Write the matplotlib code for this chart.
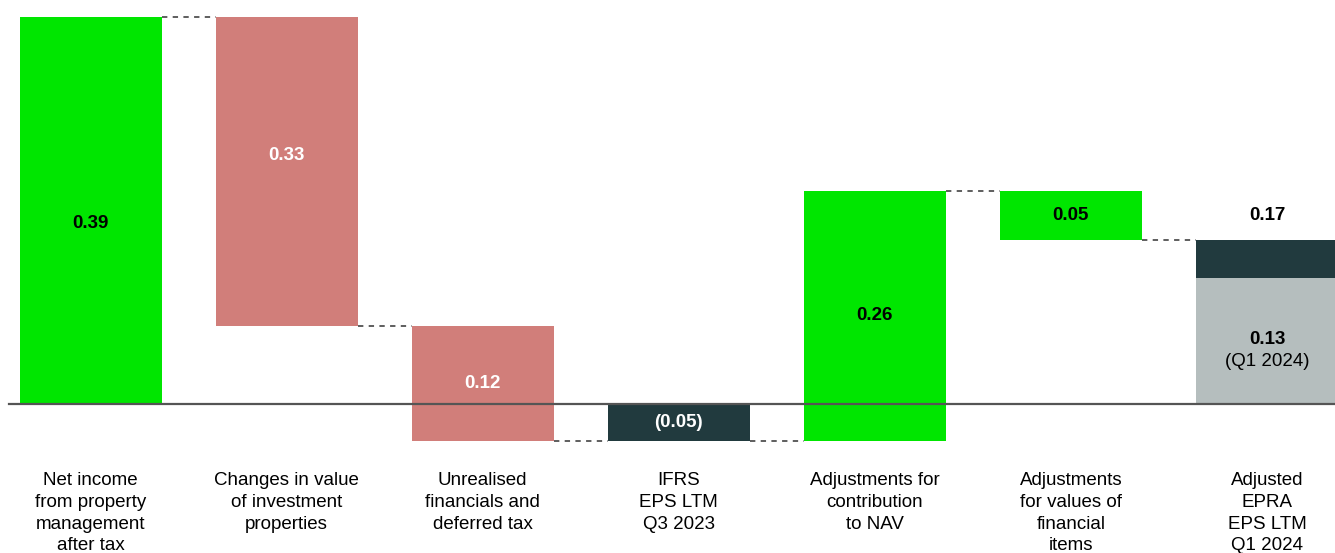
import matplotlib
matplotlib.use("Agg")
import matplotlib.pyplot as plt

plt.rcParams['font.family'] = ['Liberation Sans', 'DejaVu Sans']

categories = [
    "Net income\nfrom property\nmanagement\nafter tax",
    "Changes in value\nof investment\nproperties",
    "Unrealised\nfinancials and\ndeferred tax",
    "IFRS\nEPS LTM\nQ3 2023",
    "Adjustments for\ncontribution\nto NAV",
    "Adjustments\nfor values of\nfinancial\nitems",
    "Adjusted\nEPRA\nEPS LTM\nQ1 2024",
]
# bar kinds: 'up' / 'down' are changes, 'total' is a subtotal from zero
kinds = ["up", "down", "down", "total", "up", "up_neg", "final"]
deltas = [0.39, -0.311, -0.116, None, 0.252, -0.050, None]
final_parts = [0.127, 0.038]  # grey (Q1 2024) part, dark part
value_labels = ["0.39", "0.33", "0.12", "(0.05)", "0.26", "0.05", "0.17"]
label_y = [0.182, 0.251, None, None, None, None, 0.19]

GREEN = "#00E600"
RED = "#D17E7A"
DARK = "#213A3E"
GREY = "#B5BEBE"

fig = plt.figure(figsize=(13.35, 5.53), dpi=100)
ax = fig.add_axes([0, 0, 1, 1])
ppu = 992.0
ax.set_ylim(-149 / ppu, 404 / ppu)
ax.set_xlim(-90.5 / 196, 6 + 68 / 196)
ax.axis("off")

w = 0.724
FS = 13.5
running = 0.0
levels = []
for i, k in enumerate(kinds):
    if k in ("up", "down", "up_neg"):
        bottom = running
        top = running + deltas[i]
        color = GREEN if k in ("up", "up_neg") else RED
        running = top
        ax.bar(i, top - bottom, bottom=bottom, width=w, color=color, zorder=2)
        lo, hi = min(bottom, top), max(bottom, top)
        ly = label_y[i] if label_y[i] is not None else (lo + hi) / 2
        tc = "white" if color == RED else "black"
        ax.text(i, ly, value_labels[i], ha="center", va="center",
                fontsize=FS, fontweight="bold", color=tc, zorder=4)
    elif k == "total":
        ax.bar(i, running, bottom=0, width=w, color=DARK, zorder=2)
        ax.text(i, running / 2, value_labels[i], ha="center", va="center",
                fontsize=FS, fontweight="bold", color="white", zorder=4)
    else:
        ax.bar(i, final_parts[0], bottom=0, width=w, color=GREY, zorder=2)
        ax.bar(i, final_parts[1], bottom=final_parts[0], width=w, color=DARK, zorder=2)
        ax.text(i, label_y[i], value_labels[i], ha="center", va="center",
                fontsize=FS, fontweight="bold", color="black", zorder=4)
        ax.text(i, 0.0655, "0.13", ha="center", va="center",
                fontsize=FS, fontweight="bold", color="black", zorder=4)
        ax.text(i, 0.043, "(Q1 2024)", ha="center", va="center",
                fontsize=FS, color="black", zorder=4)
    levels.append(running)

# connectors
for i in range(len(kinds) - 1):
    ax.plot([i + w / 2, i + 1 - w / 2], [levels[i], levels[i]],
            color="#333333", lw=1.1, linestyle=(0, (3.5, 3.5)), zorder=1)

# baseline
ax.plot([(8 - 90) / 196, 6 + 69 / 196], [0, 0], color="#555555", lw=1.6, zorder=3)

for i, c in enumerate(categories):
    ax.text(i, (404 - 472) / ppu, c, ha="center", va="top", fontsize=FS,
            linespacing=1.37, color="black", clip_on=False)

fig.savefig("out.png", dpi=100)
